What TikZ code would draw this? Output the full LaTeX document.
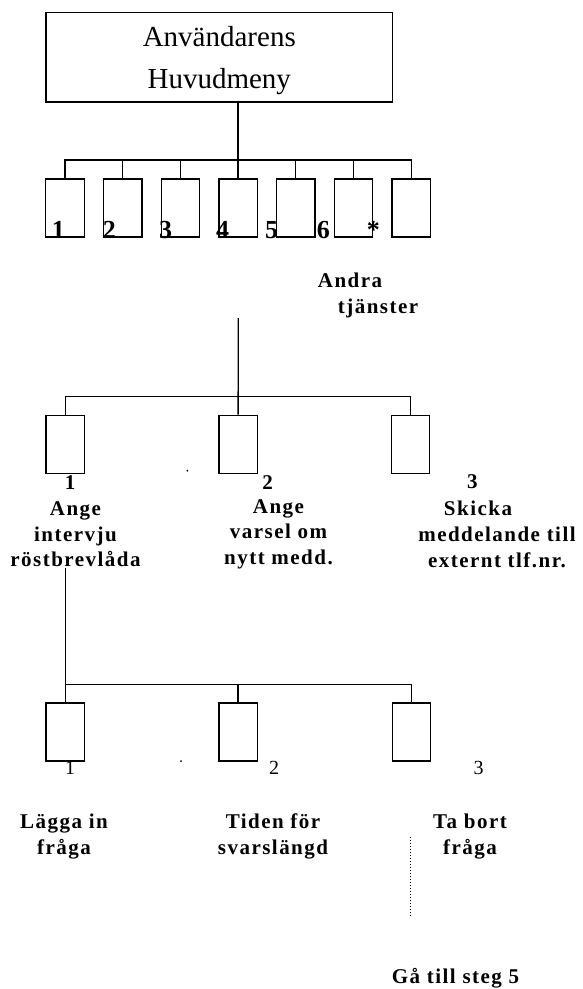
\documentclass[tikz,border=0pt]{standalone}
\usepackage{fontspec}
\setmainfont{Liberation Serif}
\usetikzlibrary{calc}
\tikzset{x=1pt, y=-1pt,
  every node/.style={align=center, inner sep=0pt},
  hub/.style={draw, minimum width=346.6pt, minimum height=89.3pt, % main menu box
    text depth=0pt, font=\fontsize{29}{42}\selectfont},
  box/.style={draw, minimum width=38.5pt, minimum height=58pt},   % one menu choice
  lbl/.style={font=\fontsize{21}{25.7}\selectfont\bfseries\addfontfeature{LetterSpace=7}},
  bignr/.style={font=\fontsize{26}{30}\selectfont\bfseries},
  nr/.style={font=\fontsize{20}{24}\selectfont}}

\begin{document}
\begin{tikzpicture}[line width=1.3pt]
  \useasboundingbox (0,0) rectangle (583,989);

  \node [hub] (meny) at (219.3,57.3) {Användarens\\Huvudmeny};

  % first level: seven choices
  \foreach \i in {1,...,7}
    \node [box] (m\i) at ({65+57.7*(\i-1)},208) {};
  \coordinate (bar1) at (238.3,160);
  \draw (meny.south -| m4) -- (m4.north);
  \draw (m1.north) |- (bar1) -| (m7.north);
  \foreach \i in {2,3,5,6}
    \draw (m\i.north) -- (m\i.north |- bar1);

  \foreach \x/\t [count=\i] in {58.3/1, 109.3/2, 165.7/3, 222.7/4, 271.7/5, 323.3/6, 373.3/*}
    \node [bignr] (k\i) at (\x,230) {\t};

  \node [lbl, align=left, anchor=west] (andra) at (317.3,295.3) {Andra\\\hspace*{20pt}tjänster};

  % second level
  \coordinate (top2) at (238.3,318);
  \coordinate (bar2) at (238.3,396.7);
  \node [box] (s1) at (65.2,444.2) {};
  \node [box] (s2) at (238.1,444.2) {};
  \node [box] (s3) at (410.5,444.2) {};
  \draw (top2) -- (s2.north);
  \draw (s1.north) |- (bar2) -| (s3.north);
  \fill (187.3,470.7) circle (1pt);

  \node [lbl] (a1) at (70,482.7) {1};
  \node [lbl] (a2) at (267.7,483) {2};
  \node [lbl] (a3) at (472.3,481.7) {3};
  \node [lbl] (ange1) at (75.5,534.2) {Ange\\intervju\\röstbrevlåda};
  \node [lbl] (ange2) at (278.5,534.2) {Ange\\varsel om\\nytt medd.};
  \node [lbl] (skicka) at (497,534.2) {Skicka\hspace*{38pt}\\meddelande till\\externt tlf.nr.};

  % third level
  \coordinate (bar3) at (238.3,684.3);
  \node [box] (t1) at (65.2,731.9) {};
  \node [box] (t2) at (238.1,731.9) {};
  \node [box] (t3) at (411.5,731.9) {};
  \draw (ange1.south -| t1) -- (t1.north);
  \draw (t1.north |- bar3) -| (t3.north);
  \draw (t2.north) -- (t2.north |- bar3);
  \fill (181,761) circle (1pt);

  \node [nr] (b1) at (70,768.3) {1};
  \node [nr] (b2) at (274,768) {2};
  \node [nr] (b3) at (478.7,767.7) {3};
  \node [lbl] (lagga) at (64,836.5) {Lägga in\\fråga};
  \node [lbl] (tiden) at (273,836.5) {Tiden för\\svarslängd};
  \node [lbl] (tabort) at (470,836.5) {Ta bort\\fråga};

  \coordinate (dot1) at (410.7,836.7);
  \coordinate (dot2) at (410.7,915);
  \draw [dotted, line width=1pt] (dot1) -- (dot2);
  \node [lbl] (gatill) at (455.5,978.3) {Gå till steg 5};
\end{tikzpicture}
\end{document}
